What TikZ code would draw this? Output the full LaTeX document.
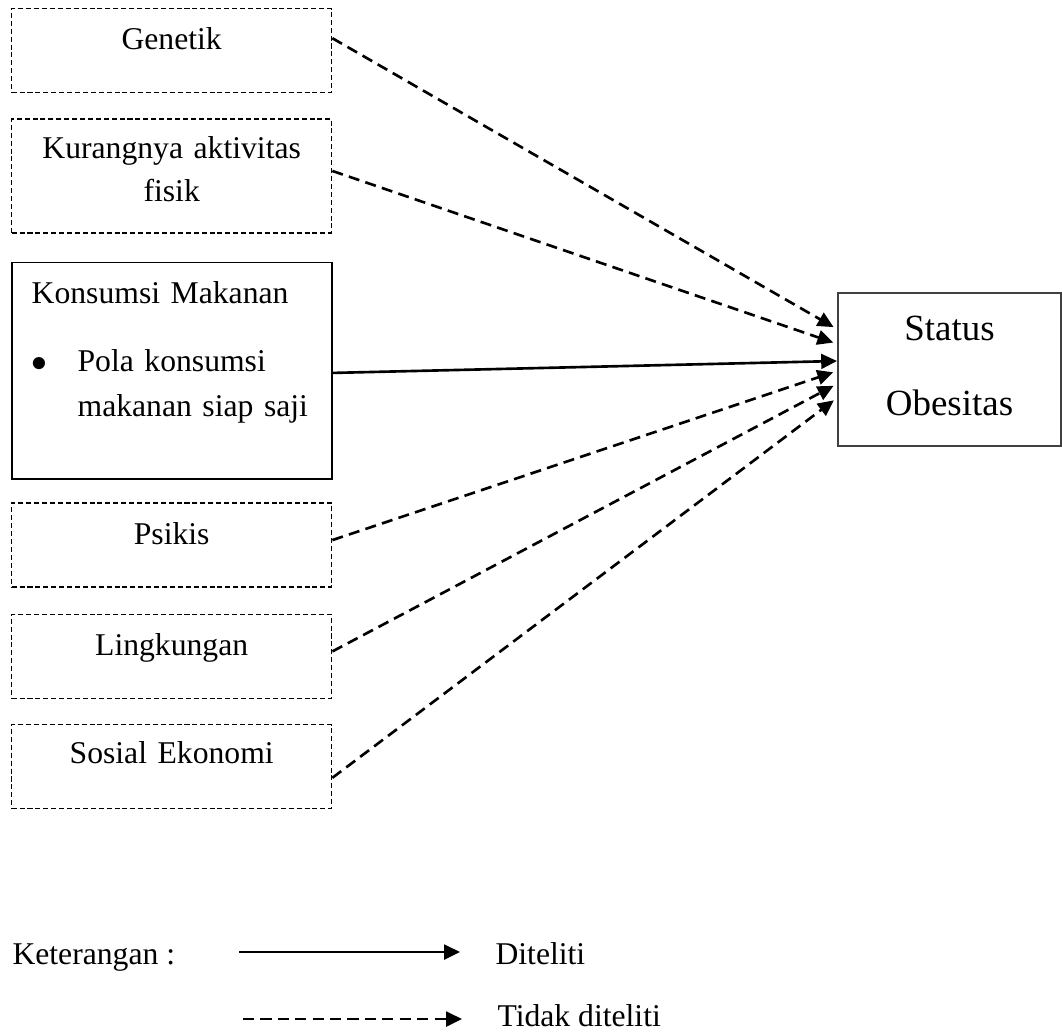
\documentclass[tikz,border=0pt]{standalone}
\usepackage{fontspec}
\setmainfont{Liberation Serif}
\usepackage{tikz}
\usetikzlibrary{arrows.meta, positioning}

\begin{document}
\begin{tikzpicture}[
    x=0.379pt, y=-0.379pt,
    factor/.style={rectangle, draw, dash pattern=on 1.9pt off 1.1pt, line width=0.5pt, inner xsep=0pt, inner ysep=0pt, text width=121.3pt, align=center, text height=15.6pt, text depth=16.2pt, font=\fontsize{12}{16.3}\selectfont},
    studied/.style={factor, solid, line width=0.7pt},
    outcome/.style={rectangle, draw=black!75, line width=0.7pt, inner sep=0pt, text width=84.6pt, align=center, text height=18.2pt, text depth=39.8pt, font=\fontsize{14}{28.4}\selectfont},
    arrow/.style={-{Triangle[length=6pt, width=5.6pt]}, line width=1pt},
    dasharrow/.style={arrow, dash pattern=on 4.2pt off 2.4pt, shorten >=1.5pt},
    legend/.style={inner sep=0pt, font=\fontsize{12}{14}\selectfont}
]
\useasboundingbox (0,0) rectangle (1062,1031);

\node[factor, anchor=north west] (genetik) at (11,8) {Genetik};
\node[factor, below=9.5pt of genetik, text height=14.8pt, text depth=28.4pt] (aktivitas) {Kurangnya aktivitas\\fisik};
\node[studied, below=10.6pt of aktivitas, align=left, inner xsep=7.6pt, text width=106.1pt, text depth=66.3pt] (konsumsi) {Konsumsi Makanan\\[9.5pt]\makebox[17.4pt][l]{$\bullet$}Pola konsumsi\\[0.8pt]\hspace*{17.4pt}makanan siap saji};
\node[factor, below=8.7pt of konsumsi] (psikis) {Psikis};
\node[factor, below=9.9pt of psikis] (lingkungan) {Lingkungan};
\node[factor, below=9.5pt of lingkungan, text height=14.8pt, text depth=17pt] (sosial) {Sosial Ekonomi};

\node[outcome, anchor=north west] (status) at (837,292) {Status\\Obesitas};

\draw[dasharrow] ([yshift=4.7pt]genetik.east) -- ([yshift=15.3pt]status.west);
\draw[dasharrow] ([yshift=1.9pt]aktivitas.east) -- ([yshift=9.7pt]status.west);
\draw[arrow] ([yshift=-0.9pt]konsumsi.east) -- ([yshift=3.2pt]status.west);
\draw[dasharrow] ([yshift=1.9pt]psikis.east) -- ([yshift=-0.6pt]status.west);
\draw[dasharrow] ([yshift=1.9pt]lingkungan.east) -- ([yshift=-5.5pt]status.west);
\draw[dasharrow] ([yshift=-4.2pt]sosial.east) -- ([yshift=-10.8pt]status.west);

\node[legend, anchor=base west] (keterangan) at (12,964) {Keterangan :};
\coordinate (solidA) at (239,952);
\coordinate (solidB) at (460,952);
\draw[arrow] (solidA) -- (solidB);
\node[legend, anchor=base west] (diteliti) at (495,964) {Diteliti};

\coordinate (dashA) at (243,1019);
\coordinate (dashB) at (462,1019);
\draw[dasharrow, shorten >=0pt] (dashA) -- (dashB);
\node[legend, anchor=base west] (tidak) at (497,1026) {Tidak diteliti};

\end{tikzpicture}
\end{document}
